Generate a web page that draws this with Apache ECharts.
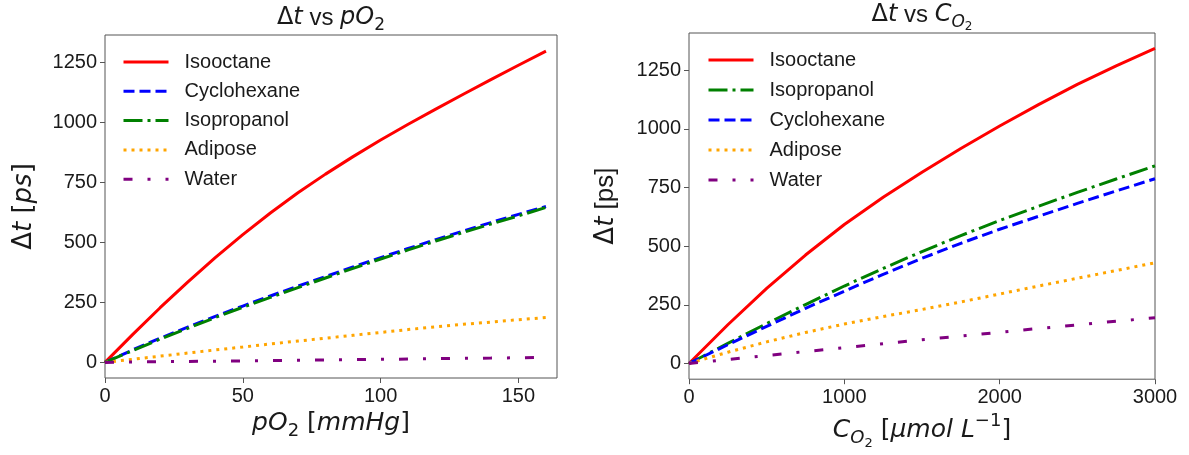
<!DOCTYPE html>
<html><head><meta charset="utf-8">
<script src="https://cdn.jsdelivr.net/npm/echarts@6/dist/echarts.min.js"></script>
<style>html,body{margin:0;padding:0;background:#fff}#c{width:1189px;height:455px}</style>
</head><body><div id="c"></div>
<script>
// ---- left panel: Δt vs pO2 ----
const pO2 = [0,10,20,30,40,50,60,70,80,90,100,110,120,130,140,150,160];
const pIsooctane   = [0,116,228,335,437,533,623,707,785,858,927,993,1056,1118,1179,1239,1298];
const pCyclohexane = [0,52,101,147,192,235,277,318,358,398,437,475,512,548,583,617,650];
const pIsopropanol = [0,49,97,142,187,230,271,312,352,392,431,469,506,542,577,611,646];
const pAdipose     = [0,13,26,39,52,64,77,89,101,113,125,137,148,159,168,178,187];
const pWater       = [0,1.5,3,4,5,6.5,8,9,10,11.5,13,14,15.5,17,18,19.5,21];
// ---- right panel: Δt vs C_O2 ----
const cO2 = [0,250,500,750,1000,1250,1500,1750,2000,2250,2500,2750,3000];
const cIsooctane   = [0,165,320,462,592,708,815,916,1012,1103,1189,1268,1342];
const cIsopropanol = [0,86,170,251,330,405,477,545,609,670,729,786,842];
const cCyclohexane = [0,80,158,235,308,380,448,512,572,627,682,735,787];
const cAdipose     = [0,48,92,132,168,200,230,262,296,330,363,396,429];
const cWater       = [0,17,34,51,67,84,101,117,133,149,164,180,195];
// ---- ticks ----
const yTicks = [0,250,500,750,1000,1250];
const pTicks = [0,50,100,150];
const cTicks = [0,1000,2000,3000];
const leftLegend  = ['Isooctane','Cyclohexane','Isopropanol','Adipose','Water'];
const rightLegend = ['Isooctane','Isopropanol','Cyclohexane','Adipose','Water'];

const styles = {
  Isooctane:   {color:'#ff0000', type:'solid'},
  Cyclohexane: {color:'#0000ff', type:[11,5]},
  Isopropanol: {color:'#008000', type:[19,5,3,5]},
  Adipose:     {color:'#ffa500', type:[3,5]},
  Water:       {color:'#800080', type:[9,15,3,15]}
};
const TXT = '#1a1a1a', AX = '#555';
const SANS = 'Liberation Sans', MATH = 'DejaVu Sans';

function mk(name, xs, ys, idx){
  return {
    name, type:'line', xAxisIndex:idx, yAxisIndex:idx,
    data: xs.map((x,i)=>[x, ys[i]]),
    symbol:'none', smooth:false,
    lineStyle:{color:styles[name].color, width:3, type:styles[name].type},
    itemStyle:{color:styles[name].color},
    z: 2
  };
}
function tok(fam, sz, italic, pad){
  return {fontFamily:fam, fontSize:sz, fontStyle: italic?'italic':'normal', fontWeight:'normal',
          color:TXT, verticalAlign:'top', padding:[pad,0,0,0]};
}
function withSubs(sz, mainPad){
  const s = Math.round(sz*0.7), ss = Math.round(sz*0.5);
  const subPad = mainPad + sz/2 + 0.3*sz - s/2;
  return {
    u: tok(MATH, sz, false, mainPad),
    i: tok(MATH, sz, true, mainPad),
    n: tok(SANS, sz, false, mainPad),
    r: tok(MATH, sz, false, mainPad),
    s: tok(MATH, s, false, subPad),
    si: tok(MATH, s, true, subPad),
    ss: tok(MATH, ss, false, mainPad + sz/2 + 0.3*sz + 0.3*s - ss/2),
    sup: tok(MATH, s, false, Math.max(0, mainPad + sz/2 - 0.42*sz - s/2))
  };
}
const plain = v => String(v);

function xAxis(idx, min, max, ticks, nameRich, rich, gap){
  return {
    type:'value', gridIndex:idx, min, max,
    name:nameRich, nameLocation:'middle', nameGap:gap,
    nameTextStyle:{rich},
    axisLine:{show:false, onZero:false},
    axisTick:{show:true, length:5, lineStyle:{color:AX}, customValues:ticks},
    axisLabel:{fontFamily:SANS, fontSize:20, color:TXT, margin:8, customValues:ticks, formatter:plain},
    splitLine:{show:false}
  };
}
function yAxis(idx, min, max, nameRich, rich, gap){
  return {
    type:'value', gridIndex:idx, min, max,
    name:nameRich, nameLocation:'middle', nameGap:gap, nameRotate:90,
    nameTextStyle:{rich},
    axisLine:{show:false, onZero:false},
    axisTick:{show:true, length:5, lineStyle:{color:AX}, customValues:yTicks},
    axisLabel:{fontFamily:SANS, fontSize:20, color:TXT, margin:8, customValues:yTicks, formatter:plain},
    splitLine:{show:false}
  };
}

const titleRich = withSubs(24, 0);
const legendCommon = {
  orient:'vertical', padding:0, itemWidth:45, itemHeight:14,
  itemStyle:{opacity:0},
  lineStyle:{width:3},
  textStyle:{fontFamily:SANS, fontSize:20, color:TXT, lineHeight:20, padding:[0,0,0,11]},
  selectedMode:false
};
const option = {
  animation:false,
  backgroundColor:'#fff',
  title:[
    {text:'{u|Δ}{i|t}{n| vs }{i|pO}{s|2}', left:331, top:6, textAlign:'center', padding:0,
     textStyle:{rich:titleRich, fontWeight:'normal'}},
    {text:'{u|Δ}{i|t}{n| vs }{i|C}{si|O}{ss|2}', left:922, top:3, textAlign:'center', padding:0,
     textStyle:{rich:titleRich, fontWeight:'normal'}}
  ],
  grid:[
    {left:105, top:35, width:452, height:343, show:true, borderColor:AX, borderWidth:1, containLabel:false},
    {left:689, top:33, width:466, height:350, show:true, borderColor:AX, borderWidth:1, containLabel:false}
  ],
  legend:[
    Object.assign({data:leftLegend, left:122, top:52, itemGap:9.3}, legendCommon),
    Object.assign({data:rightLegend, left:707, top:50, itemGap:10}, legendCommon)
  ],
  xAxis:[
    xAxis(0, 0, 164, pTicks, '{i|pO}{s|2}{r| [}{i|mmHg}{r|]}', withSubs(25,0), 31),
    xAxis(1, 0, 3000, cTicks, '{i|C}{si|O}{ss|2}{r| [}{i|μmol L}{sup|−1}{r|]}', withSubs(25,6), 31)
  ],
  yAxis:[
    yAxis(0, -65, 1365, '{u|Δ}{i|t}{r| [}{i|ps}{r|]}', withSubs(26,0), 68),
    yAxis(1, -67, 1408, '{u|Δ}{i|t}{n| [ps]}', withSubs(26,0), 70)
  ],
  series:[
    mk('Isooctane', pO2, pIsooctane, 0),
    mk('Cyclohexane', pO2, pCyclohexane, 0),
    mk('Isopropanol', pO2, pIsopropanol, 0),
    mk('Adipose', pO2, pAdipose, 0),
    mk('Water', pO2, pWater, 0),
    mk('Isooctane', cO2, cIsooctane, 1),
    mk('Isopropanol', cO2, cIsopropanol, 1),
    mk('Cyclohexane', cO2, cCyclohexane, 1),
    mk('Adipose', cO2, cAdipose, 1),
    mk('Water', cO2, cWater, 1)
  ]
};
const chart = echarts.init(document.getElementById('c'), null, {renderer:'canvas'});
chart.setOption(option);
</script>
</body></html>
